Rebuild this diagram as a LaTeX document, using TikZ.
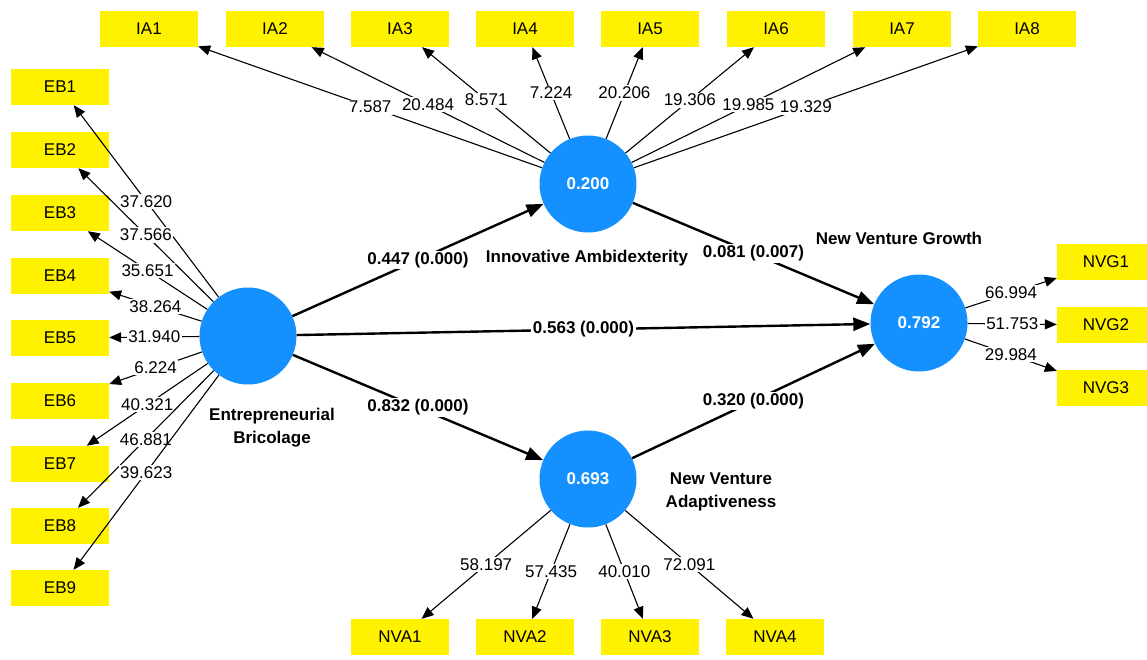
\documentclass[tikz,border=0pt]{standalone}
\usepackage{fontspec}
\setmainfont{Liberation Sans}
\usetikzlibrary{arrows.meta}
\definecolor{plsblue}{RGB}{20,145,255}

\begin{document}
\fontsize{17}{23}\selectfont
\begin{tikzpicture}[x=1pt,y=-1pt,
        ind/.style={fill=yellow,minimum width=98,minimum height=36,inner sep=0pt},
        lv/.style={circle,fill=plsblue,minimum size=97,inner sep=0pt,text=white,font=\bfseries},
        load/.style={line width=1.1pt,-{Triangle[length=12pt,width=10pt]}},
        struct/.style={line width=2.4pt,-{Triangle[length=17pt,width=13pt]}},
        val/.style={fill=white,inner sep=1.5pt},
        coef/.style={fill=white,inner sep=1.5pt,font=\bfseries},
        lvname/.style={font=\bfseries,align=center}]
        \useasboundingbox (0,0) rectangle (1147,659);

        \node[lv] (eb) at (248,336) {};
        \node[lv] (ia) at (588,184) {0.200};
        \node[lv] (nva) at (588,479) {0.693};
        \node[lv] (nvg) at (919,323) {0.792};

        \node[lvname] (ebname) at (272,428) {Entrepreneurial\\Bricolage};
        \node[lvname] (ianame) at (587,258) {Innovative Ambidexterity};
        \node[lvname] (nvgname) at (899,238) {New Venture Growth};
        \node[lvname] (nvaname) at (721,492) {New Venture\\Adaptiveness};

        \node[ind] (eb1) at (60,87) {EB1};
        \node[ind] (eb2) at (60,150) {EB2};
        \node[ind] (eb3) at (60,213) {EB3};
        \node[ind] (eb4) at (60,276) {EB4};
        \node[ind] (eb5) at (60,338) {EB5};
        \node[ind] (eb6) at (60,401) {EB6};
        \node[ind] (eb7) at (60,464) {EB7};
        \node[ind] (eb8) at (60,526) {EB8};
        \node[ind] (eb9) at (60,588) {EB9};

        \node[ind] (ia1) at (149,29) {IA1};
        \node[ind] (ia2) at (275,29) {IA2};
        \node[ind] (ia3) at (400,29) {IA3};
        \node[ind] (ia4) at (525,29) {IA4};
        \node[ind] (ia5) at (650,29) {IA5};
        \node[ind] (ia6) at (776,29) {IA6};
        \node[ind] (ia7) at (902,29) {IA7};
        \node[ind] (ia8) at (1027,29) {IA8};

        \node[ind] (nva1) at (400,637) {NVA1};
        \node[ind] (nva2) at (525,637) {NVA2};
        \node[ind] (nva3) at (650,637) {NVA3};
        \node[ind] (nva4) at (775,637) {NVA4};

        \node[ind] (nvg1) at (1106,262) {NVG1};
        \node[ind] (nvg2) at (1106,325) {NVG2};
        \node[ind] (nvg3) at (1106,388) {NVG3};

        \draw[load] (eb) -- node[val] {37.620} (eb1);
        \draw[load] (eb) -- node[val] {37.566} (eb2);
        \draw[load] (eb) -- node[val] {35.651} (eb3);
        \draw[load] (eb) -- node[val] {38.264} (eb4);
        \draw[load] (eb) -- node[val] {31.940} (eb5);
        \draw[load] (eb) -- node[val] {6.224} (eb6);
        \draw[load] (eb) -- node[val] {40.321} (eb7);
        \draw[load] (eb) -- node[val] {46.881} (eb8);
        \draw[load] (eb) -- node[val] {39.623} (eb9);

        \draw[load] (ia) -- node[val] {7.587} (ia1);
        \draw[load] (ia) -- node[val] {20.484} (ia2);
        \draw[load] (ia) -- node[val] {8.571} (ia3);
        \draw[load] (ia) -- node[val] {7.224} (ia4);
        \draw[load] (ia) -- node[val] {20.206} (ia5);
        \draw[load] (ia) -- node[val] {19.306} (ia6);
        \draw[load] (ia) -- node[val] {19.985} (ia7);
        \draw[load] (ia) -- node[val] {19.329} (ia8);

        \draw[load] (nva) -- node[val] {58.197} (nva1);
        \draw[load] (nva) -- node[val] {57.435} (nva2);
        \draw[load] (nva) -- node[val] {40.010} (nva3);
        \draw[load] (nva) -- node[val] {72.091} (nva4);

        \draw[load] (nvg) -- node[val] {66.994} (nvg1);
        \draw[load] (nvg) -- node[val] {51.753} (nvg2);
        \draw[load] (nvg) -- node[val] {29.984} (nvg3);

        \draw[struct] (eb) -- node[coef] {0.447 (0.000)} (ia);
        \draw[struct] (eb) -- node[coef] {0.563 (0.000)} (nvg);
        \draw[struct] (eb) -- node[coef] {0.832 (0.000)} (nva);
        \draw[struct] (ia) -- node[coef] {0.081 (0.007)} (nvg);
        \draw[struct] (nva) -- node[coef] {0.320 (0.000)} (nvg);
    \end{tikzpicture}
\end{document}
